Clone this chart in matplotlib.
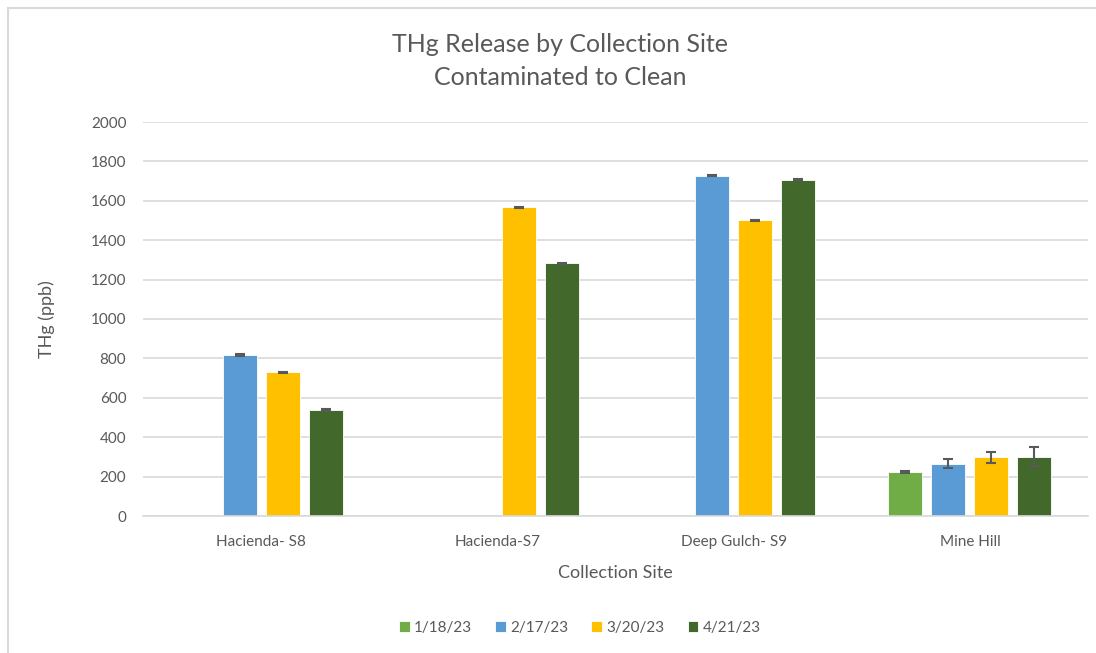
import numpy as np
import matplotlib.pyplot as plt
from matplotlib.patches import Rectangle

plt.rcParams['font.family'] = ['Lato', 'DejaVu Sans']

sites = ['Hacienda- S8', 'Hacienda-S7', 'Deep Gulch- S9', 'Mine Hill']
dates = ['1/18/23', '2/17/23', '3/20/23', '4/21/23']
colors = ['#70AD47', '#5B9BD5', '#FFC000', '#43682B']

# THg (ppb) per date, per site (nan = no bar)
thg = [
    [np.nan, np.nan, np.nan, 222],
    [817, np.nan, 1727, 265],
    [730, 1567, 1502, 297],
    [538, 1282, 1707, 302],
]
thg_err = [
    [0, 0, 0, 4],
    [3, 0, 3, 22],
    [3, 3, 3, 27],
    [3, 3, 3, 50],
]

fig = plt.figure(figsize=(10.96, 6.53), dpi=100)
fig.patches.append(Rectangle((8 / 1096, -0.1), 1.2, 1 - 8 / 653 + 0.1,
                             transform=fig.transFigure, fill=False,
                             edgecolor='#d9d9d9', linewidth=1.5))
ax = fig.add_axes([143 / 1096, 1 - 516 / 653, (1088 - 143) / 1096, (516 - 122) / 653])

x = np.arange(len(sites))
width = 0.144
pitch = 0.182
for i in range(len(dates)):
    pos = x + (i - 1.5) * pitch
    ax.bar(pos, thg[i], width, color=colors[i], edgecolor='white', linewidth=0.6,
           label=dates[i], zorder=2)
    ax.errorbar(pos, thg[i], yerr=thg_err[i], fmt='none', ecolor='#595959',
                elinewidth=1.5, capsize=3.5, capthick=1.5, zorder=3)

ax.set_xlim(-0.5, 3.5)
ax.set_ylim(0, 2000)
ax.set_yticks(range(0, 2001, 200))
ax.set_xticks(x)
ax.set_xticklabels(sites)
ax.grid(axis='y', color='#d9d9d9', linewidth=1.2, zorder=0)
for s in ['top', 'right', 'left']:
    ax.spines[s].set_visible(False)
ax.spines['bottom'].set_color('#d9d9d9')
ax.spines['bottom'].set_linewidth(1.2)
ax.tick_params(axis='both', length=0, labelsize=11, colors='#595959', pad=12)
ax.tick_params(axis='x', pad=14)

ax.set_ylabel('THg (ppb)', fontsize=13, color='#595959', labelpad=26)
ax.set_xlabel('Collection Site', fontsize=13, color='#595959', labelpad=11)

fig.text(560 / 1096, 1 - 61 / 653, 'THg Release by Collection Site\nContaminated to Clean',
         ha='center', va='center', fontsize=18, color='#595959', linespacing=1.55)

ax.legend(loc='center', bbox_to_anchor=(580 / 1096, 1 - 628 / 653),
          bbox_transform=fig.transFigure, ncol=4, frameon=False, fontsize=11,
          handlelength=0.7, handleheight=0.7, handletextpad=0.3, columnspacing=1.5,
          labelcolor='#595959')

fig.savefig('out.png', dpi=100)
